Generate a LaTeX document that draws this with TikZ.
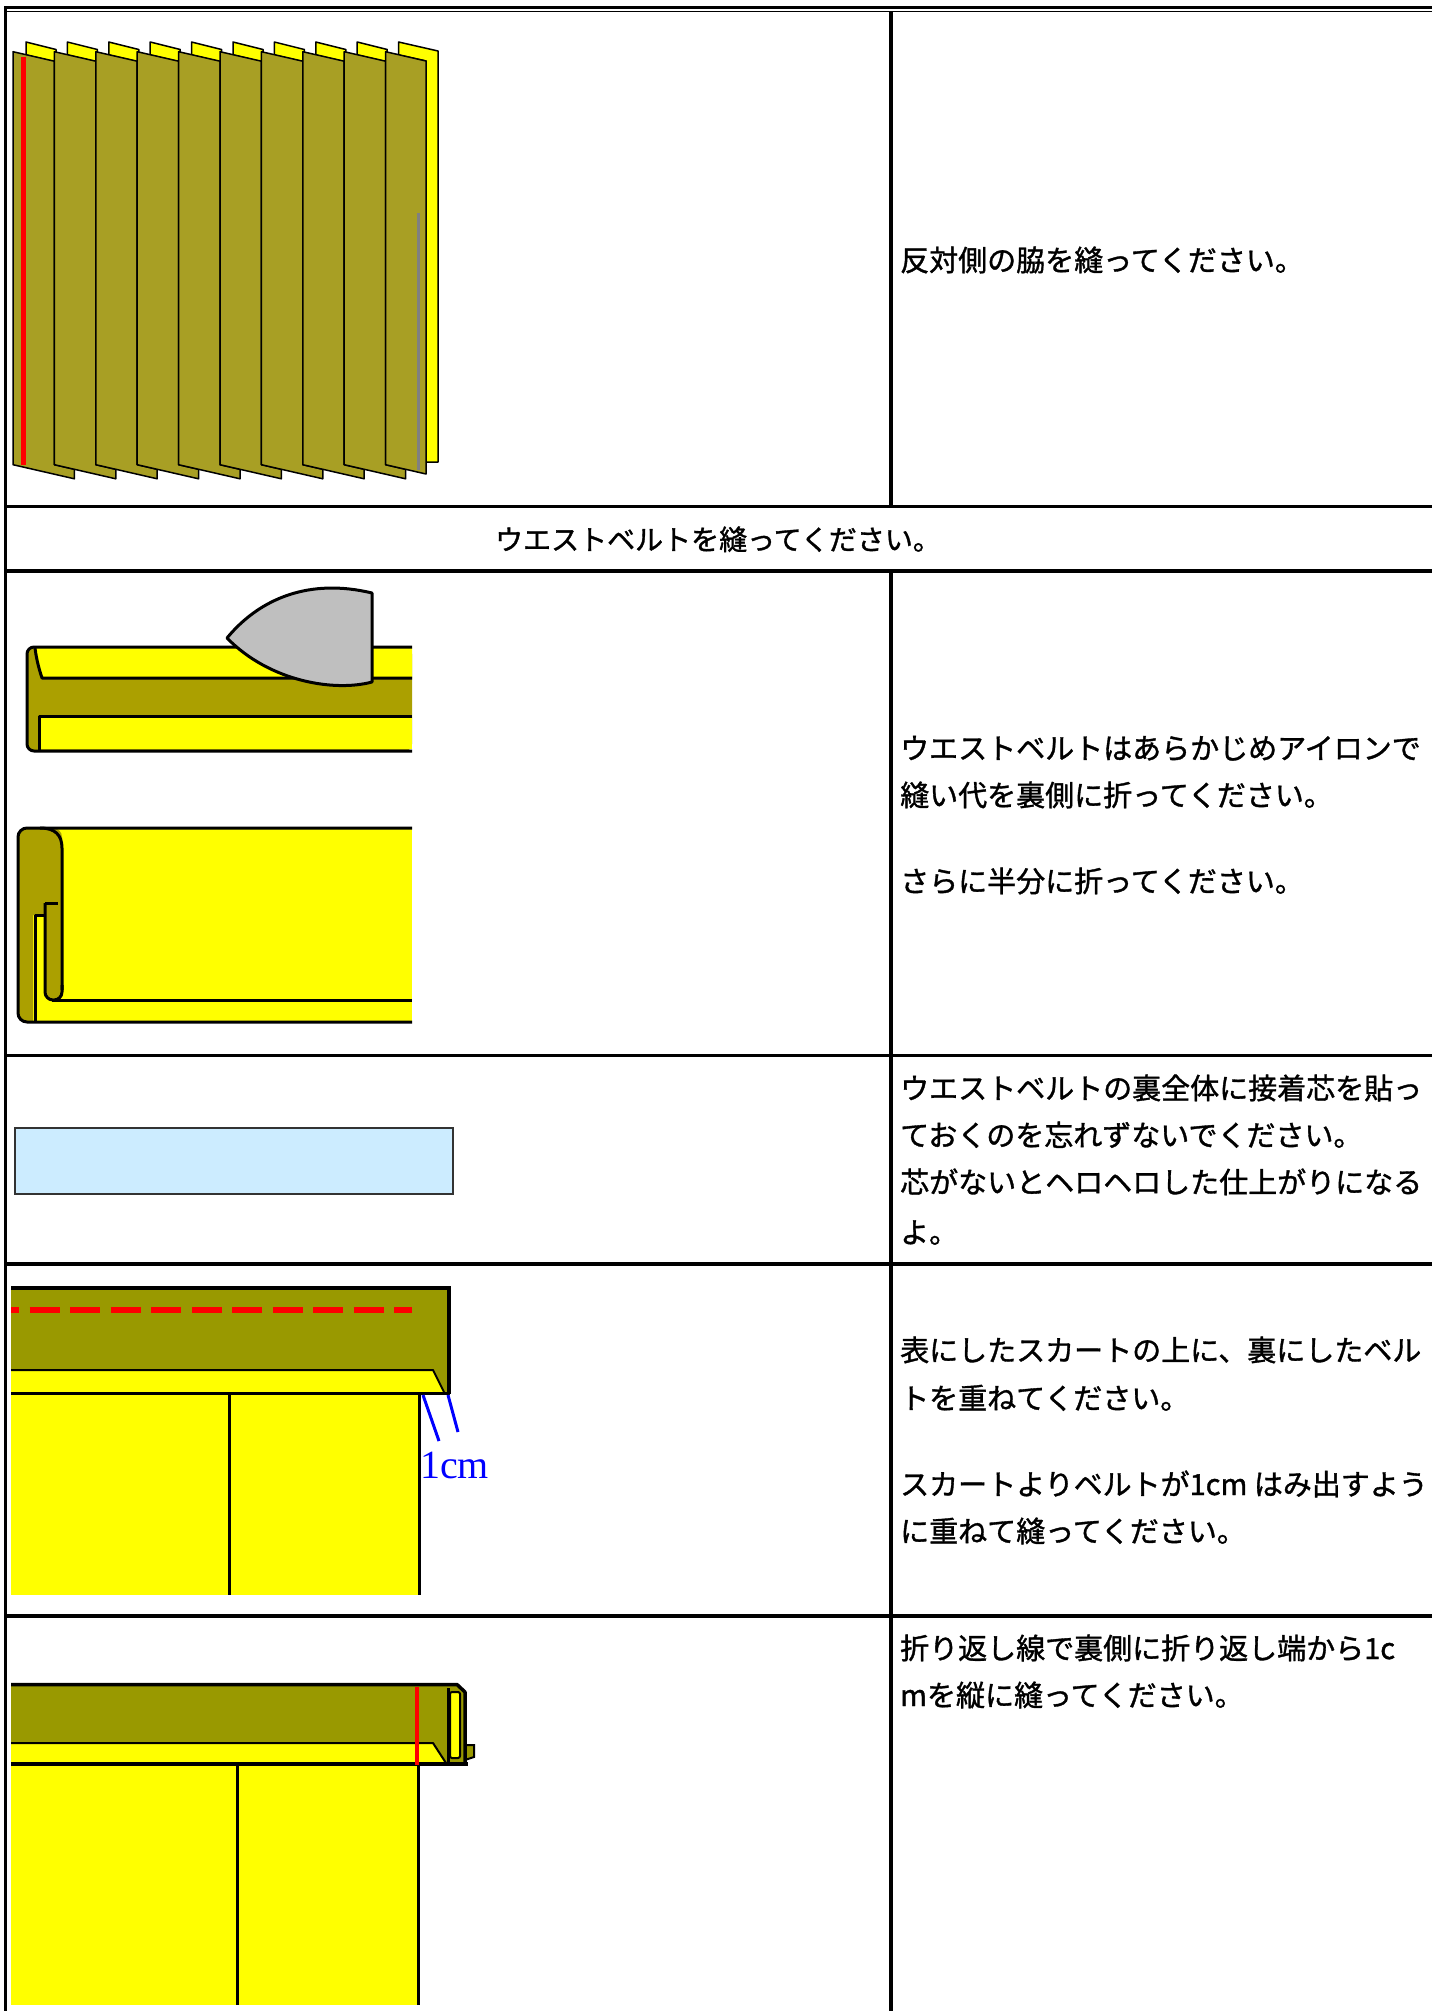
\documentclass[tikz,border=0pt]{standalone}
\usepackage{fontspec}
\newfontfamily\jpfont[FakeBold=1.2]{Noto Sans CJK JP}
\newfontfamily\numfont{Liberation Serif}
\definecolor{pleat}{HTML}{A89F24}
\definecolor{beltA}{HTML}{ABA000}
\definecolor{beltB}{HTML}{999900}
\definecolor{yel}{HTML}{FFFF00}
\definecolor{ironc}{HTML}{BFBFBF}
\definecolor{interf}{HTML}{CCECFF}
\definecolor{seamgray}{HTML}{808080}

\begin{document}
\begin{tikzpicture}[x=1pt,y=-1pt,
  rule/.style={line width=3.5pt},
  outl/.style={line width=3pt, line join=round},
  pleatline/.style={draw=black, line width=1.5pt, line join=round},
  txt/.style={font=\jpfont\fontsize{29}{34}\selectfont, anchor=west, inner sep=0pt,
              text height=25.5pt, text depth=3.5pt},
  txtc/.style={txt, font=\jpfont\fontsize{28}{34}\selectfont, anchor=center}]

\useasboundingbox (0,0) rectangle (1432,2011);
\fill[white] (0,0) rectangle (1432,2011);

% ---------- row 1: pleated skirt, side seam ----------
\foreach \i in {0,...,8} {
  \pgfmathsetmacro\xa{13+41.4*\i}
  % back layer peeking above the pleat
  \filldraw[fill=yel, pleatline] ({\xa+13},42) -- ({\xa+43},49.5) -- ({\xa+43},62) -- ({\xa+13},55) -- cycle;
  % pleat face with its bottom flap
  \filldraw[fill=pleat, pleatline] (\xa,51.7) -- ({\xa+41.4},61.2) -- ({\xa+41.4},464.7)
     -- ({\xa+61.4},469.3) -- ({\xa+61.4},478.8) -- (\xa,464.7) -- cycle;
}
% last pleat with the back strip on the right
\filldraw[fill=yel, pleatline] (398.6,42) -- (438,51) -- (438,462) -- (426,462) -- (426,61) -- (398.6,55) -- cycle;
\filldraw[fill=pleat, pleatline] (385.6,51.7) -- (426,61) -- (426,474) -- (385.6,464.7) -- cycle;
\draw[red, line width=5.5pt] (23.7,57) -- (23.7,465);
\draw[seamgray, line width=3pt] (418.3,213) -- (418.3,470);

% ---------- row 3: pressing the belt ----------
% belt with allowances folded to the back
\fill[beltA, rounded corners=7pt] (412,647) -- (27,647) -- (27,751) -- (412,751) -- cycle;
\fill[yel] (412,678) -- (42,678) .. controls (38,666) and (36,656) .. (35,648) -- (412,648) -- cycle;
\fill[yel] (39,716) rectangle (412,749);
\draw[outl, rounded corners=7pt] (412,647) -- (27,647) -- (27,751) -- (412,751);
\draw[outl] (412,678) -- (42,678) .. controls (38,666) and (36,656) .. (35,648);
\draw[outl] (412,716) -- (39,716) -- (39,750);
% iron
\filldraw[fill=ironc, outl] (227,638) .. controls (260,598) and (310,578) .. (372,593)
   -- (372,682) .. controls (335,692) and (270,682) .. (227,638) -- cycle;

% belt folded in half
\fill[yel] (30,828) rectangle (412,1022);
\fill[beltA] (33,915) -- (33,1022) [rounded corners=9pt] -- (18,1022) -- (18,828) -- (62,828)
   [sharp corners] -- (62,915) -- cycle;
\fill[beltA, rounded corners=8pt] (45,903) -- (45,1000) -- (62,1000) [sharp corners] -- (62,903) -- cycle;
\draw[outl, rounded corners=9pt] (412,828) -- (18,828) -- (18,1022) -- (412,1022);
\draw[outl] (40,828) .. controls (55,828) and (62,835) .. (62,848) -- (62,990);
\draw[outl, rounded corners=8pt] (45,903) -- (45,1000) -- (62,1000) -- (62,985);
\draw[outl] (52,1000) -- (412,1000);
\draw[outl] (45,903) -- (58,903);
\draw[outl] (35,1022) -- (35,915) -- (45,915);

% ---------- row 4: interfacing ----------
\filldraw[fill=interf, draw=black!80, line width=1.5pt] (15,1128) rectangle (453,1194);

% ---------- row 5: belt laid on the skirt ----------
\fill[yel] (11,1370) rectangle (445,1393);
\fill[beltB] (11,1288) -- (448,1288) -- (448,1393) -- (444,1393) -- (433,1370) -- (11,1370) -- cycle;
\draw[line width=2pt, line join=round] (11,1370) -- (433,1370) -- (444,1392);
\draw[rule, line join=miter] (11,1288) -- (449,1288) -- (449,1394);
\fill[yel] (11,1393) rectangle (419,1595);
\draw[line width=3pt] (11,1393) -- (450,1393);
\draw[line width=3pt] (229,1393) -- (229,1595);
\draw[line width=3pt] (419,1393) -- (419,1595);
\draw[red, line width=6pt, dash pattern=on 30pt off 10.5pt, dash phase=22pt] (11,1310) -- (412,1310);
\draw[blue, line width=3pt] (423,1395) -- (439,1441);
\draw[blue, line width=3pt] (448,1395) -- (458,1432);
\node[font=\numfont\fontsize{40}{40}\selectfont, text=blue, anchor=west, inner sep=0pt] (cm) at (420,1465) {1cm};

% ---------- row 6: belt end folded back ----------
\fill[yel] (11,1743) rectangle (447,1764);
\fill[beltB] (11,1684) -- (457,1684) -- (465,1692) -- (465,1764) -- (446,1764) -- (433,1743) -- (11,1743) -- cycle;
\draw[line width=2pt, line join=round] (11,1743) -- (433,1743) -- (446,1763);
\filldraw[fill=beltB, line width=2pt] (465,1745) -- (474,1745) -- (474,1757) -- (465,1760) -- cycle;
\draw[rule, line join=round] (11,1684.5) -- (457,1684.5) -- (465,1692) -- (465,1764);
\filldraw[fill=yel, line width=2pt, rounded corners=2pt] (450,1692) rectangle (460,1758);
\draw[line width=3pt] (448,1688) -- (448,1764);
\fill[yel] (11,1764) rectangle (418,2005);
\draw[line width=3.5pt] (11,1764) -- (468,1764);
\draw[line width=3pt] (237,1764) -- (237,2005);
\draw[line width=3pt] (418,1764) -- (418,2005);
\draw[red, line width=4pt] (417,1687) -- (417,1765);

% ---------- table rules ----------
\draw[rule] (4,7.5) -- (1432,7.5);
\draw[line width=1.2pt] (7,11.8) -- (1432,11.8);
\draw[rule] (5.5,6) -- (5.5,2011);
\draw[rule] (891,11) -- (891,506.5);
\draw[rule] (891,571) -- (891,2011);
\foreach \yy in {506.5,571,1055.5,1264,1616}
  \draw[rule] (4,\yy) -- (1432,\yy);

% ---------- texts ----------
\node[txt] (r1) at (900,260) {反対側の脇を縫ってください。};
\node[txtc] (hd) at (718,539) {ウエストベルトを縫ってください。};
\node[txt] (r3a) at (900,748) {ウエストベルトはあらかじめアイロンで};
\node[txt] (r3b) at (900,795) {縫い代を裏側に折ってください。};
\node[txt] (r3c) at (900,881) {さらに半分に折ってください。};
\node[txt] (r4a) at (900,1088) {ウエストベルトの裏全体に接着芯を貼っ};
\node[txt] (r4b) at (900,1135) {ておくのを忘れずないでください。};
\node[txt] (r4c) at (900,1182) {芯がないとヘロヘロした仕上がりになる};
\node[txt] (r4d) at (900,1232) {よ。};
\node[txt] (r5a) at (900,1350) {表にしたスカートの上に、裏にしたベル};
\node[txt] (r5b) at (900,1398) {トを重ねてください。};
\node[txt] (r5c) at (900,1484) {スカートよりベルトが1cm はみ出すよう};
\node[txt] (r5d) at (900,1531) {に重ねて縫ってください。};
\node[txt] (r6a) at (900,1648) {折り返し線で裏側に折り返し端から1c};
\node[txt] (r6b) at (900,1695) {mを縦に縫ってください。};
\end{tikzpicture}
\end{document}
